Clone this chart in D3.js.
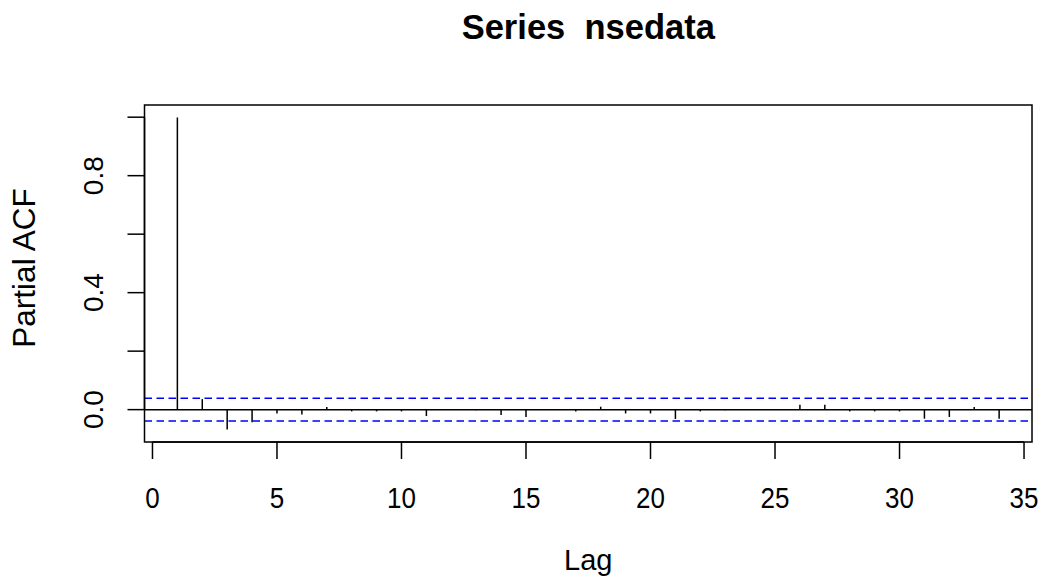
<!DOCTYPE html>
<html>
<head>
<meta charset="utf-8">
<script src="https://cdn.jsdelivr.net/npm/d3@7"></script>
<style>
  html, body { margin: 0; padding: 0; background: #fff; }
  text { font-family: "Liberation Sans", Arial, sans-serif; fill: #000; }
</style>
</head>
<body>
<svg id="chart" width="1048" height="580"></svg>
<script>
// Partial autocorrelation of nsedata, lags 1..34
const lags = d3.range(1, 35);
const pacfValues = [
  0.999, 0.036, -0.068, -0.043, -0.013, -0.017, 0.009, -0.006, -0.006, -0.006,
  -0.022, 0.002, -0.002, -0.018, -0.025, 0.001, -0.006, 0.010, -0.013, -0.013,
  -0.032, -0.006, -0.002, 0.002, -0.001, 0.017, 0.017, -0.006, -0.006, -0.006,
  -0.031, -0.025, 0.009, -0.031
];
const confLimit = 0.039;           // 95% band, 1.96/sqrt(n)
const xTicks = [0, 5, 10, 15, 20, 25, 30, 35];
const yTicks = [0, 0.2, 0.4, 0.6, 0.8, 1.0];
const yTickLabels = ["0.0", "", "0.4", "", "0.8", ""];

const box = { left: 144.5, right: 1032, top: 105, bottom: 442 };

// R-style 4% axis expansion
function expand(lo, hi) { const d = (hi - lo) * 0.04; return [lo - d, hi + d]; }
const xDom = expand(d3.min(lags), d3.max(lags));
const yDom = expand(Math.min(-confLimit, d3.min(pacfValues)), Math.max(confLimit, d3.max(pacfValues)));

const x = d3.scaleLinear().domain(xDom).range([box.left, box.right]);
const y = d3.scaleLinear().domain(yDom).range([box.bottom, box.top]);

const svg = d3.select("#chart");

// Spikes
svg.append("g").selectAll("line").data(lags).join("line")
  .attr("x1", d => x(d)).attr("x2", d => x(d))
  .attr("y1", y(0)).attr("y2", (d, i) => y(pacfValues[i]))
  .attr("stroke", "#000").attr("stroke-width", 1.5);

// Zero line
svg.append("line")
  .attr("x1", box.left).attr("x2", box.right)
  .attr("y1", y(0)).attr("y2", y(0))
  .attr("stroke", "#000").attr("stroke-width", 1.5);

// Confidence band
svg.append("g").selectAll("line").data([confLimit, -confLimit]).join("line")
  .attr("x1", box.left).attr("x2", box.right)
  .attr("y1", d => y(d)).attr("y2", d => y(d))
  .attr("stroke", "#0000ff").attr("stroke-width", 1.5)
  .attr("stroke-dasharray", "7.5,4.5");

// Frame
svg.append("rect")
  .attr("x", box.left).attr("y", box.top)
  .attr("width", box.right - box.left).attr("height", box.bottom - box.top)
  .attr("fill", "none").attr("stroke", "#000").attr("stroke-width", 1.5);

// X axis
const xAxis = svg.append("g");
xAxis.append("line")
  .attr("x1", x(xTicks[0])).attr("x2", x(xTicks[xTicks.length - 1]))
  .attr("y1", box.bottom).attr("y2", box.bottom)
  .attr("stroke", "#000").attr("stroke-width", 1.5);
xAxis.selectAll("line.tick").data(xTicks).join("line").attr("class", "tick")
  .attr("x1", d => x(d)).attr("x2", d => x(d))
  .attr("y1", box.bottom).attr("y2", box.bottom + 17)
  .attr("stroke", "#000").attr("stroke-width", 1.5);
xAxis.selectAll("text").data(xTicks).join("text")
  .attr("transform", d => `translate(${x(d)},508) scale(1,1.12)`)
  .attr("text-anchor", "middle").attr("font-size", 26)
  .text(d => d);

// Y axis
const yAxis = svg.append("g");
yAxis.append("line")
  .attr("x1", box.left).attr("x2", box.left)
  .attr("y1", y(yTicks[0])).attr("y2", y(yTicks[yTicks.length - 1]))
  .attr("stroke", "#000").attr("stroke-width", 1.5);
yAxis.selectAll("line.tick").data(yTicks).join("line").attr("class", "tick")
  .attr("x1", box.left - 17).attr("x2", box.left)
  .attr("y1", d => y(d)).attr("y2", d => y(d))
  .attr("stroke", "#000").attr("stroke-width", 1.5);
yAxis.selectAll("text").data(yTicks).join("text")
  .attr("transform", d => `translate(103,${y(d)}) rotate(-90)`)
  .attr("text-anchor", "middle").attr("font-size", 28)
  .text((d, i) => yTickLabels[i]);

// Titles
svg.append("text")
  .attr("x", (box.left + box.right) / 2).attr("y", 39)
  .attr("text-anchor", "middle").attr("font-size", 34.5).attr("font-weight", "bold")
  .text("Series  nsedata").attr("xml:space", "preserve").style("white-space", "pre");
svg.append("text")
  .attr("x", (box.left + box.right) / 2).attr("y", 570)
  .attr("text-anchor", "middle").attr("font-size", 29)
  .text("Lag");
svg.append("text")
  .attr("transform", `translate(35,268) rotate(-90)`)
  .attr("text-anchor", "middle").attr("font-size", 31.5)
  .text("Partial ACF");
</script>
</body>
</html>
